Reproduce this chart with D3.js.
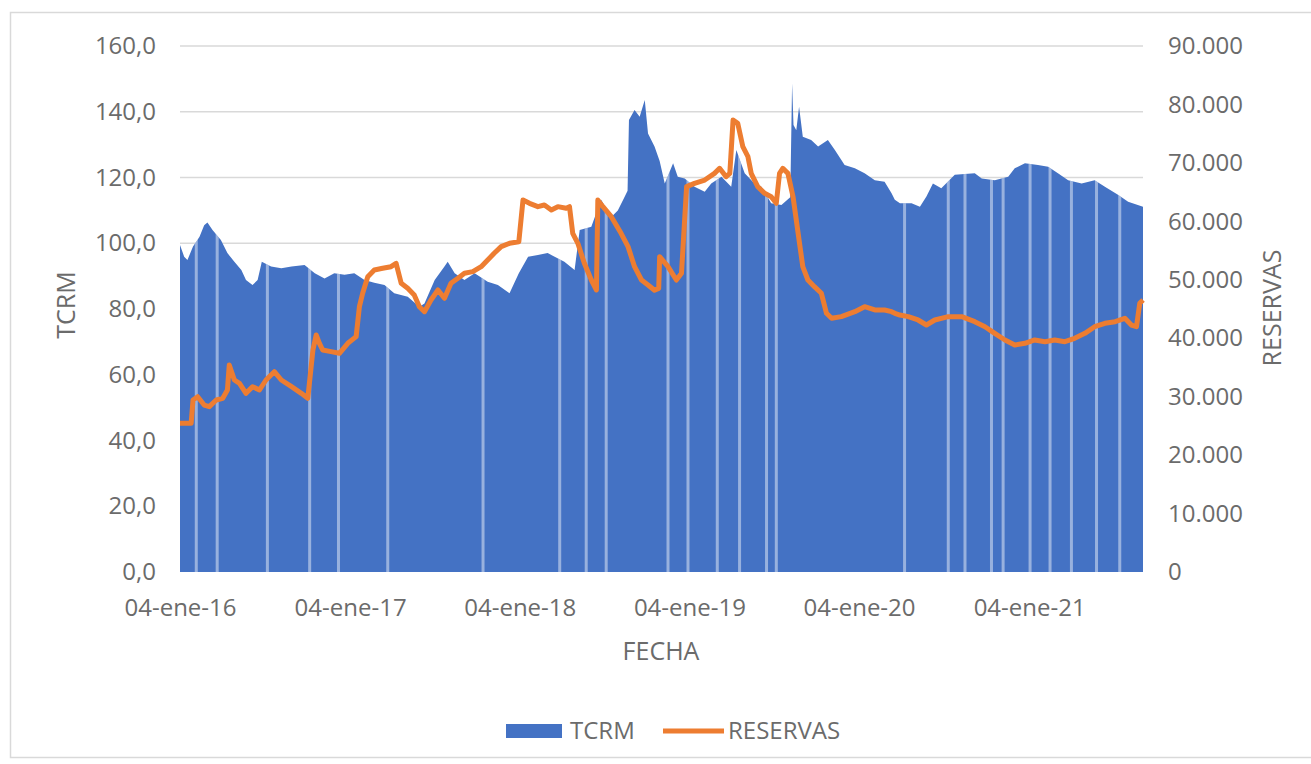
<!DOCTYPE html>
<html>
<head>
<meta charset="utf-8">
<script src="https://cdn.jsdelivr.net/npm/d3@7"></script>
<style>
  body { margin: 0; background: #fff; }
  text { font-family: "Open Sans", sans-serif; fill: #6b6b6b; }
</style>
</head>
<body>
<svg id="chart" width="1311" height="764"></svg>
<script>
// TCRM (left axis)
const tcrmDates = [
  "2016-01-04","2016-01-13","2016-01-20","2016-02-01","2016-02-15","2016-02-25","2016-03-03","2016-03-14",
  "2016-04-01","2016-04-15","2016-04-30","2016-05-15","2016-05-25","2016-06-08","2016-06-19","2016-06-28",
  "2016-07-18","2016-08-09","2016-08-31","2016-09-28","2016-10-20","2016-11-10","2016-12-01","2016-12-23",
  "2017-01-13","2017-02-04","2017-02-25","2017-03-19","2017-04-09","2017-05-08","2017-06-02","2017-06-13",
  "2017-07-05","2017-07-26","2017-08-02","2017-08-17","2017-09-07","2017-09-29","2017-10-27","2017-11-18",
  "2017-12-13","2018-01-02","2018-01-22","2018-02-12","2018-03-05","2018-04-10","2018-05-02","2018-05-13",
  "2018-06-07","2018-06-28","2018-07-20","2018-08-03","2018-08-18","2018-08-24","2018-08-27","2018-09-08",
  "2018-09-19","2018-09-30","2018-10-07","2018-10-21","2018-11-01","2018-11-12","2018-11-30","2018-12-10",
  "2018-12-25","2019-01-15","2019-02-06","2019-02-20","2019-03-14","2019-04-04","2019-04-15","2019-05-03",
  "2019-05-24","2019-06-08","2019-06-29","2019-07-21","2019-08-09","2019-08-13","2019-08-16","2019-08-22",
  "2019-08-28","2019-09-05","2019-09-23","2019-10-08","2019-10-29","2019-11-13","2019-12-04","2019-12-26",
  "2020-01-16","2020-02-07","2020-02-28","2020-03-14","2020-03-21","2020-04-01","2020-04-26","2020-05-14",
  "2020-05-28","2020-06-11","2020-06-29","2020-07-28","2020-09-09","2020-09-24","2020-10-22","2020-11-20",
  "2020-12-04","2020-12-26","2021-01-23","2021-02-14","2021-03-07","2021-03-29","2021-04-27","2021-05-25",
  "2021-06-16","2021-07-15","2021-08-05","2021-09-06"
];
const tcrmValues = [
  99.5, 95.9, 94.9, 99.0, 102.0, 105.5, 106.3, 104.0,
  101.0, 97.0, 94.4, 91.9, 88.8, 87.3, 88.8, 94.4,
  92.9, 92.4, 92.9, 93.4, 90.9, 89.3, 90.9, 90.4,
  90.9, 88.8, 88.0, 87.3, 84.8, 83.7, 80.7, 81.7,
  88.8, 92.9, 94.4, 90.9, 88.8, 90.9, 88.3, 87.3,
  84.8, 90.9, 95.9, 96.4, 97.0, 94.4, 91.9, 104.0,
  105.0, 113.2, 108.0, 110.0, 114.2, 116.0, 137.5, 140.5,
  138.5, 143.6, 133.4, 129.4, 125.0, 118.2, 124.3, 120.2,
  119.7, 117.2, 115.7, 118.2, 120.2, 117.2, 128.4, 121.3,
  118.2, 117.2, 112.2, 111.6, 114.0, 148.6, 136.0, 134.4,
  141.5, 132.4, 131.4, 129.4, 131.4, 128.4, 123.8, 122.8,
  121.3, 119.2, 118.7, 115.2, 113.2, 112.2, 112.2, 111.1,
  114.2, 118.2, 116.7, 120.8, 121.3, 119.7, 119.2, 120.2,
  122.8, 124.3, 123.8, 123.3, 121.3, 119.2, 118.2, 119.2,
  117.2, 114.7, 112.6, 111.1
];
// days with no TCRM quote (breaks in the bars)
const tcrmGapDates = [
  "2016-02-08","2016-03-24","2016-07-10","2016-10-09","2016-12-10","2017-03-26","2017-10-17","2018-03-31",
  "2018-05-27","2018-07-09","2018-11-19","2019-01-01","2019-03-05","2019-04-22","2019-06-19","2019-07-10",
  "2020-04-11","2020-07-14","2020-08-19","2020-10-15","2020-11-09","2021-01-06","2021-02-18","2021-04-05",
  "2021-05-29","2021-07-18"
];

// RESERVAS (right axis)
const reservasDates = [
  "2016-01-04","2016-01-28","2016-02-01","2016-02-11","2016-02-25","2016-03-07","2016-03-22","2016-04-05",
  "2016-04-15","2016-04-19","2016-04-30","2016-05-11","2016-05-25","2016-06-08","2016-06-23","2016-07-07",
  "2016-07-25","2016-08-09","2016-08-31","2016-09-21","2016-10-05","2016-10-16","2016-10-23","2016-10-30",
  "2016-11-06","2016-11-24","2016-12-12","2016-12-30","2017-01-17","2017-01-24","2017-01-31","2017-02-11",
  "2017-02-25","2017-03-15","2017-04-02","2017-04-13","2017-04-24","2017-05-08","2017-05-22","2017-06-02",
  "2017-06-13","2017-06-27","2017-07-12","2017-07-26","2017-08-09","2017-08-24","2017-09-07","2017-09-25",
  "2017-10-13","2017-10-27","2017-11-10","2017-11-25","2017-12-13","2018-01-02","2018-01-11","2018-01-25",
  "2018-02-12","2018-02-26","2018-03-13","2018-03-27","2018-04-14","2018-04-21","2018-04-28","2018-05-09",
  "2018-05-23","2018-06-07","2018-06-18","2018-06-21","2018-07-02","2018-07-20","2018-08-10","2018-08-25",
  "2018-09-08","2018-09-23","2018-10-07","2018-10-21","2018-10-30","2018-11-01","2018-11-19","2018-12-07",
  "2018-12-18","2018-12-29","2019-01-15","2019-02-06","2019-02-27","2019-03-10","2019-03-24","2019-04-01",
  "2019-04-08","2019-04-18","2019-04-29","2019-05-10","2019-05-17","2019-05-31","2019-06-15","2019-06-29",
  "2019-07-10","2019-07-17","2019-07-24","2019-08-04","2019-08-15","2019-08-26","2019-09-05","2019-09-16",
  "2019-09-30","2019-10-15","2019-10-26","2019-11-06","2019-11-27","2019-12-26","2020-01-16","2020-02-07",
  "2020-02-28","2020-03-14","2020-03-21","2020-04-01","2020-04-19","2020-05-10","2020-05-28","2020-06-15",
  "2020-07-14","2020-08-12","2020-09-09","2020-10-01","2020-10-22","2020-11-13","2020-12-04","2020-12-26",
  "2021-01-16","2021-02-07","2021-02-28","2021-03-22","2021-04-12","2021-05-04","2021-05-25","2021-06-16",
  "2021-07-08","2021-07-29","2021-08-12","2021-08-23","2021-08-30","2021-09-06"
];
const reservasValues = [
  25440, 25440, 29430, 30000, 28570, 28290, 29430, 29720,
  31140, 35420, 32850, 32280, 30570, 31710, 31140, 32850,
  34280, 32850, 31710, 30570, 29720, 37980, 40550, 39130,
  37980, 37700, 37420, 39130, 40270, 45400, 47690, 50530,
  51670, 51960, 52240, 52820, 49400, 48540, 47400, 45400,
  44540, 46540, 48250, 46830, 49400, 50250, 51110, 51390,
  52240, 53380, 54530, 55670, 56240, 56500, 63650, 63080,
  62510, 62800, 61940, 62510, 62230, 62510, 57950, 56240,
  52820, 49960, 48250, 63650, 62510, 60800, 57950, 55670,
  52240, 49960, 49110, 48200, 48500, 53950, 52240, 49960,
  51110, 65930, 66500, 67070, 68210, 69070, 67640, 68210,
  77340, 76770, 72770, 71060, 68210, 65930, 64790, 64220,
  63080, 68210, 69070, 68210, 64220, 57950, 52240, 49960,
  48820, 47690, 44260, 43410, 43690, 44540, 45400, 44830,
  44830, 44540, 44260, 43970, 43690, 43120, 42260, 43120,
  43690, 43690, 42830, 41970, 40840, 39700, 38840, 39130,
  39700, 39410, 39700, 39410, 39990, 40840, 41970, 42550,
  42830, 43410, 42260, 41970, 45970, 46540
];

// axes
const xTickDates = ["2016-01-04","2017-01-04","2018-01-04","2019-01-04","2020-01-04","2021-01-04"];
const xTickLabels = ["04-ene-16","04-ene-17","04-ene-18","04-ene-19","04-ene-20","04-ene-21"];
const leftTicks = [0, 20, 40, 60, 80, 100, 120, 140, 160];
const rightTicks = [0, 10000, 20000, 30000, 40000, 50000, 60000, 70000, 80000, 90000];

const parse = d3.timeParse("%Y-%m-%d");
const es = d3.formatLocale({decimal: ",", thousands: ".", grouping: [3], currency: ["$", ""]});
const fmtLeft = es.format(",.1f");
const fmtRight = es.format(",.0f");

const tcrm = tcrmDates.map((d, i) => ({date: parse(d), value: tcrmValues[i]}));
const reservas = reservasDates.map((d, i) => ({date: parse(d), value: reservasValues[i]}));

const plotLeft = 180, plotRight = 1143, plotTop = 46, plotBottom = 572;

const svg = d3.select("#chart");

// outer frame
svg.append("rect")
  .attr("x", 10.5).attr("y", 12.5)
  .attr("width", 1320).attr("height", 745)
  .attr("fill", "none").attr("stroke", "#d9d9d9").attr("stroke-width", 1.5);

const x = d3.scaleTime()
  .domain([parse("2016-01-04"), parse("2021-09-06")])
  .range([plotLeft, plotRight]);
const y = d3.scaleLinear().domain([0, 160]).range([plotBottom, plotTop]);
const y2 = d3.scaleLinear().domain([0, 90000]).range([plotBottom, plotTop]);

// gridlines
svg.append("g")
  .selectAll("line")
  .data(leftTicks.slice(1))
  .join("line")
  .attr("x1", plotLeft).attr("x2", plotRight)
  .attr("y1", d => y(d)).attr("y2", d => y(d))
  .attr("stroke", "#d9d9d9").attr("stroke-width", 1.5);

// TCRM area
const area = d3.area()
  .x(d => x(d.date))
  .y0(plotBottom)
  .y1(d => y(d.value));

svg.append("clipPath").attr("id", "tcrmClip")
  .append("path").attr("d", area(tcrm));

svg.append("path")
  .attr("d", area(tcrm))
  .attr("fill", "#4472c4");

svg.append("g")
  .attr("clip-path", "url(#tcrmClip)")
  .selectAll("rect")
  .data(tcrmGapDates)
  .join("rect")
  .attr("x", d => x(parse(d)) - 1.5)
  .attr("y", plotTop)
  .attr("width", 3)
  .attr("height", plotBottom - plotTop)
  .attr("fill", "#fff")
  .attr("opacity", 0.45);

// RESERVAS line
const line = d3.line()
  .x(d => x(d.date))
  .y(d => y2(d.value));

svg.append("path")
  .attr("d", line(reservas))
  .attr("fill", "none")
  .attr("stroke", "#ed7d31")
  .attr("stroke-width", 5)
  .attr("stroke-linejoin", "round");

// axes
const axisLeft = svg.append("g")
  .attr("transform", "translate(" + plotLeft + ",0)")
  .call(d3.axisLeft(y).tickValues(leftTicks).tickFormat(fmtLeft).tickSize(0).tickPadding(24));
axisLeft.select(".domain").remove();

const axisRight = svg.append("g")
  .attr("transform", "translate(" + plotRight + ",0)")
  .call(d3.axisRight(y2).tickValues(rightTicks).tickFormat(fmtRight).tickSize(0).tickPadding(25));
axisRight.select(".domain").remove();

const axisBottom = svg.append("g")
  .attr("transform", "translate(0," + plotBottom + ")")
  .call(d3.axisBottom(x)
    .tickValues(xTickDates.map(parse))
    .tickFormat((d, i) => xTickLabels[i])
    .tickSize(0).tickPadding(27));
axisBottom.select(".domain").remove();

svg.selectAll(".tick text")
  .attr("font-family", "Open Sans, sans-serif")
  .attr("font-size", 24)
  .attr("fill", "#6b6b6b");

// axis titles
svg.append("text")
  .attr("transform", "translate(75,305) rotate(-90)")
  .attr("text-anchor", "middle")
  .attr("font-size", 25)
  .text("TCRM");

svg.append("text")
  .attr("transform", "translate(1281,308) rotate(-90)")
  .attr("text-anchor", "middle")
  .attr("font-size", 25)
  .text("RESERVAS");

svg.append("text")
  .attr("x", 661).attr("y", 660)
  .attr("text-anchor", "middle")
  .attr("font-size", 25)
  .text("FECHA");

// legend
const legend = svg.append("g");
legend.append("rect")
  .attr("x", 506).attr("y", 724)
  .attr("width", 56).attr("height", 14)
  .attr("fill", "#4472c4");
legend.append("text")
  .attr("x", 570).attr("y", 739)
  .attr("font-size", 24)
  .text("TCRM");
legend.append("line")
  .attr("x1", 663).attr("x2", 724)
  .attr("y1", 731).attr("y2", 731)
  .attr("stroke", "#ed7d31").attr("stroke-width", 5);
legend.append("text")
  .attr("x", 728).attr("y", 739)
  .attr("font-size", 24)
  .text("RESERVAS");
</script>
</body>
</html>
